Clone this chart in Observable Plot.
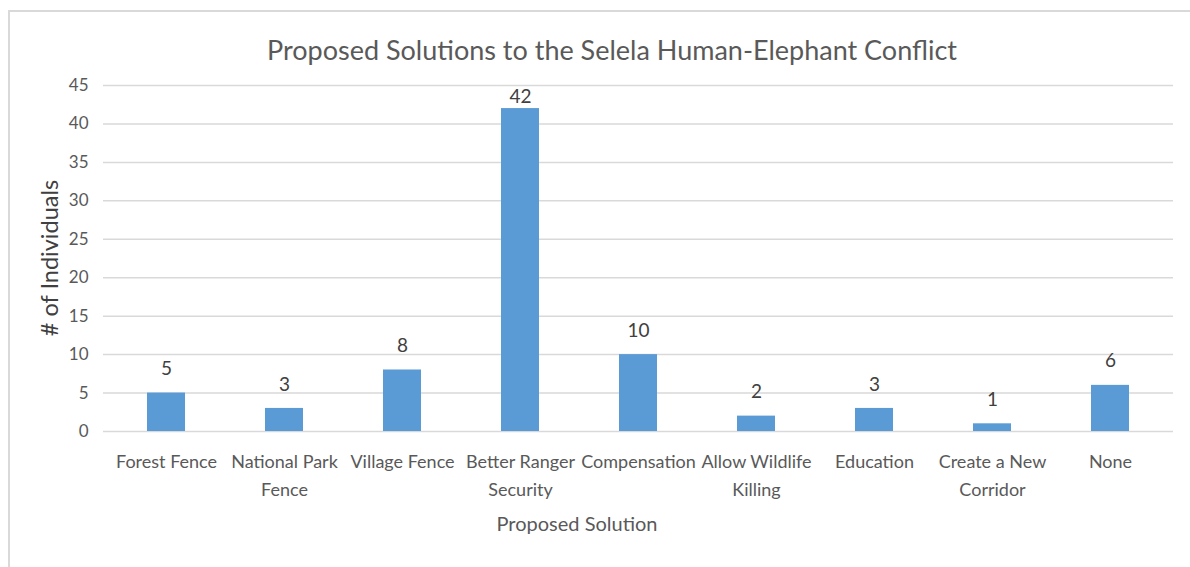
<!DOCTYPE html>
<html>
<head>
<meta charset="utf-8">
<script src="https://cdn.jsdelivr.net/npm/d3@7"></script>
<script src="https://cdn.jsdelivr.net/npm/@observablehq/plot@0.6"></script>
<style>
  body { margin: 0; background: #fff; }
  #wrap { position: relative; width: 1190px; height: 567px; overflow: hidden; background: #fff;
          font-family: Lato, "Noto Sans", sans-serif; color: #595959; }
  #frame { position: absolute; left: 8px; top: 10px; width: 1300px; height: 700px; border: 2px solid #d9d9d9; box-sizing: border-box; }
  #title { position: absolute; left: 0; top: 0; width: 1224px; height: 70px; line-height: 100px; text-align: center; font-size: 27px; color: #595959; }
  #chart { position: absolute; left: 0; top: 70px; }
  #xtitle { position: absolute; left: 377px; width: 400px; top: 511px; text-align: center; font-size: 20px; color: #595959; }
  #ytitle { position: absolute; left: 49px; top: 258px; width: 300px; height: 28px; line-height: 28px; margin-left: -150px; margin-top: -14px;
            transform: rotate(-90deg); text-align: center; font-size: 23.5px; color: #404040; }
</style>
</head>
<body>
<div id="wrap">
  <div id="frame"></div>
  <div id="title">Proposed Solutions to the Selela Human-Elephant Conflict</div>
  <div id="chart"></div>
  <div id="xtitle">Proposed Solution</div>
  <div id="ytitle"># of Individuals</div>
</div>
<script>
const categories = ["Forest Fence", "National Park Fence", "Village Fence", "Better Ranger Security", "Compensation", "Allow Wildlife Killing", "Education", "Create a New Corridor", "None"];
const tickLabels = ["Forest Fence", "National Park\nFence", "Village Fence", "Better Ranger\nSecurity", "Compensation", "Allow Wildlife\nKilling", "Education", "Create a New\nCorridor", "None"];
const values = [5, 3, 8, 42, 10, 2, 3, 1, 6];
const yTicks = [0, 5, 10, 15, 20, 25, 30, 35, 40, 45];

const data = categories.map((c, i) => ({category: c, label: tickLabels[i], value: values[i]}));
const labelOf = new Map(data.map(d => [d.category, d.label]));
const maxV = d3.max(values);

const chart = Plot.plot({
  width: 1190,
  height: 497,
  marginTop: 15,
  marginBottom: 136,
  marginLeft: 103,
  marginRight: 17,
  style: { fontFamily: 'Lato, "Noto Sans", sans-serif', color: "#595959", background: "transparent" },
  x: { domain: categories, paddingInner: 0.68, paddingOuter: 0.34 },
  y: { domain: [0, 45] },
  marks: [
    Plot.gridY(yTicks, { stroke: "#d9d9d9", strokeOpacity: 1, strokeWidth: 1.5 }),
    Plot.barY(data, { x: "category", y: "value", fill: "#5B9BD5" }),
    Plot.text(data.filter(d => d.value < maxV), { x: "category", y: "value", text: d => String(d.value), dy: -24, fontSize: 19, fill: "#404040" }),
    Plot.text(data.filter(d => d.value === maxV), { x: "category", y: "value", text: d => String(d.value), dy: -12, fontSize: 19, fill: "#404040" }),
    Plot.axisY({ ticks: yTicks, tickSize: 0, tickPadding: 15, fontSize: 17, label: null, fill: "#595959" }),
    Plot.axisX({ tickSize: 0, tickPadding: 17, fontSize: 18, lineHeight: 1.55, tickFormat: c => labelOf.get(c), label: null, fill: "#595959" })
  ]
});
document.getElementById("chart").appendChild(chart);
</script>
</body>
</html>
